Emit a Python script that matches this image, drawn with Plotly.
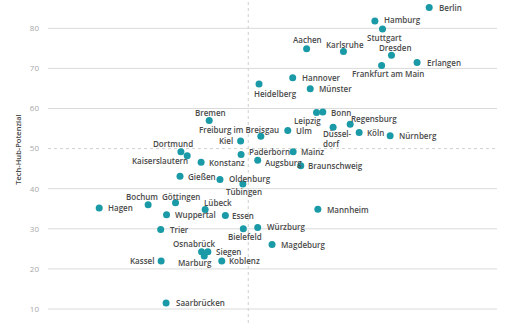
import plotly.graph_objects as go

# ---------------- data ----------------
cities = ["Berlin", "Hamburg", "Stuttgart", "Dresden", "Erlangen", "Frankfurt am Main",
          "Karlsruhe", "Aachen", "Hannover", "Münster", "Heidelberg", "Bonn", "Leipzig",
          "Regensburg", "Düsseldorf", "Köln", "Nürnberg", "Ulm", "Freiburg im Breisgau",
          "Bremen", "Kiel", "Dortmund", "Kaiserslautern", "Konstanz", "Paderborn", "Mainz",
          "Augsburg", "Braunschweig", "Gießen", "Oldenburg", "Tübingen", "Bochum",
          "Göttingen", "Hagen", "Lübeck", "Wuppertal", "Essen", "Mannheim", "Trier",
          "Bielefeld", "Würzburg", "Magdeburg", "Osnabrück", "Siegen", "Marburg",
          "Koblenz", "Kassel", "Saarbrücken"]
x_index = [84.9, 72.8, 74.5, 76.5, 82.2, 74.3,
           65.8, 57.6, 54.5, 58.4, 47.0, 61.2, 59.8,
           67.3, 63.5, 69.3, 76.2, 53.4, 47.4,
           35.9, 42.9, 29.6, 31.0, 34.1, 43.0, 54.6,
           46.7, 56.3, 29.4, 38.3, 43.4, 22.3,
           28.4, 11.4, 35.0, 26.4, 39.5, 60.1, 25.1,
           43.5, 46.7, 49.9, 34.2, 35.6, 34.8,
           38.7, 25.2, 26.3]
tech_hub_potenzial = [85.2, 81.8, 79.8, 73.3, 71.5, 70.7,
                      74.2, 74.9, 67.7, 64.9, 66.1, 59.1, 59.0,
                      56.1, 55.3, 54.0, 53.2, 54.5, 53.1,
                      57.0, 51.9, 49.2, 48.2, 46.6, 48.5, 49.2,
                      47.1, 45.7, 43.1, 42.3, 41.2, 36.0,
                      36.5, 35.2, 34.8, 33.5, 33.3, 34.9, 29.8,
                      30.0, 30.3, 26.1, 24.3, 24.3, 23.2,
                      22.0, 22.0, 11.5]
y_ticks = [10, 20, 30, 40, 50, 60, 70, 80]
median_x = 44.6
median_y = 50

# ---------------- label placement (xanchor, dx px, dy px downwards) ----------------
LABEL_POS = {
    "Berlin": ("left", 8, 0), "Hamburg": ("left", 7, -2), "Stuttgart": ("center", 2, 8),
    "Dresden": ("center", 4, -8), "Erlangen": ("left", 8, 0),
    "Frankfurt am Main": ("center", 6, 8), "Karlsruhe": ("center", 2, -7),
    "Aachen": ("center", 1, -9), "Hannover": ("left", 7, 0), "Münster": ("left", 7, 0),
    "Heidelberg": ("left", -7, 9), "Bonn": ("left", 6, 0), "Leipzig": ("right", 6, 8),
    "Regensburg": ("left", -1, -6), "Düsseldorf": ("left", -12, 11),
    "Köln": ("left", 6, 0), "Nürnberg": ("left", 7, 0), "Ulm": ("left", 6, 0),
    "Freiburg im Breisgau": ("center", -22, -7), "Bremen": ("center", 1, -8),
    "Kiel": ("right", -6, 0), "Dortmund": ("center", -8, -8),
    "Kaiserslautern": ("right", 3, 5), "Konstanz": ("left", 6, 0),
    "Paderborn": ("left", 6, -3), "Mainz": ("left", 6, 0), "Augsburg": ("left", 5, 2),
    "Braunschweig": ("left", 5, 0), "Gießen": ("left", 6, 0), "Oldenburg": ("left", 7, -1),
    "Tübingen": ("center", 1, 8), "Bochum": ("center", -6, -8),
    "Göttingen": ("center", 5, -6), "Hagen": ("left", 7, 0), "Lübeck": ("left", -3, -7),
    "Wuppertal": ("left", 6, 0), "Essen": ("left", 5, 0), "Mannheim": ("left", 7, 0),
    "Trier": ("left", 7, 0), "Bielefeld": ("center", 2, 8), "Würzburg": ("left", 7, -1),
    "Magdeburg": ("left", 7, 0), "Osnabrück": ("center", -8, -8),
    "Siegen": ("left", 6, 0), "Marburg": ("center", -9, 6), "Koblenz": ("left", 5, 0),
    "Kassel": ("right", -5, 0), "Saarbrücken": ("left", 8, 0),
}
DISPLAY = {"Düsseldorf": "Düssel-<br>dorf"}

DOT = "#1a9aa6"
LABEL = "#4a4a4a"
GRID = "#dadada"
FONT = "Open Sans"

fig = go.Figure()
fig.add_trace(go.Scatter(
    x=x_index, y=tech_hub_potenzial, mode="markers",
    marker=dict(color=DOT, size=7, line=dict(width=0)),
    text=cities, hoverinfo="text", showlegend=False,
))

annotations = []
for name, xv, yv in zip(cities, x_index, tech_hub_potenzial):
    anchor, dx, dy = LABEL_POS[name]
    annotations.append(dict(
        x=xv, y=yv, xref="x", yref="y", text=DISPLAY.get(name, name),
        showarrow=False, xanchor=anchor, yanchor="middle", align="left",
        xshift=dx, yshift=-dy,
        font=dict(family=FONT, size=8, color=LABEL, weight=600),
    ))
annotations.append(dict(
    x=-0.067, y=49.7, xref="paper", yref="y", text="Tech-Hub-Potenzial",
    showarrow=False, textangle=-90, xanchor="center", yanchor="middle",
    font=dict(family=FONT, size=7.5, color=LABEL, weight=600),
))

shapes = []
for v in y_ticks:
    if v == median_y:
        continue
    shapes.append(dict(type="line", xref="paper", yref="y", x0=0, x1=1, y0=v, y1=v,
                       line=dict(color=GRID, width=1), layer="below"))
shapes.append(dict(type="line", xref="paper", yref="y", x0=0, x1=1, y0=median_y, y1=median_y,
                   line=dict(color="#cfcfcf", width=1, dash="dot"), layer="below"))
shapes.append(dict(type="line", xref="x", yref="paper", x0=median_x, x1=median_x, y0=0, y1=1,
                   line=dict(color="#cfcfcf", width=1, dash="dot"), layer="below"))

fig.update_layout(
    width=516, height=323,
    margin=dict(l=48, r=19, t=0, b=0),
    paper_bgcolor="white", plot_bgcolor="white",
    annotations=annotations, shapes=shapes,
    xaxis=dict(range=[0, 100], visible=False, showgrid=False, zeroline=False),
    yaxis=dict(range=[6.51, 87.06], tickvals=y_ticks, showgrid=False, zeroline=False,
               showline=False, ticks="", ticklabelstandoff=8,
               tickfont=dict(family=FONT, size=8, color="#a8a8a8")),
)

fig.write_html("out.html")
